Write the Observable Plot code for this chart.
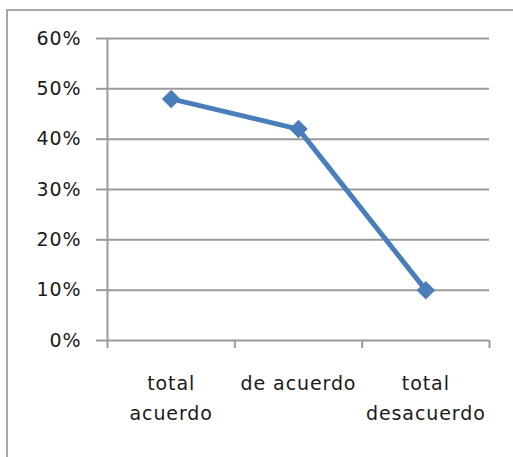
<!DOCTYPE html>
<html>
<head>
<meta charset="utf-8">
<script src="https://cdn.jsdelivr.net/npm/d3@7"></script>
<script src="https://cdn.jsdelivr.net/npm/@observablehq/plot@0.6"></script>
<style>
  html, body { margin: 0; padding: 0; background: #fff; }
  #wrap { position: relative; width: 513px; height: 457px; overflow: hidden; }
  #frame { position: absolute; left: 6px; top: 9px; width: 600px; height: 600px;
           border-left: 2px solid #a6a6a6; border-top: 2px solid #a6a6a6; box-sizing: border-box; }
  #chart { position: absolute; left: 0; top: 0; }
  #chart text { letter-spacing: 0.9px; }
</style>
</head>
<body>
<div id="wrap"><div id="frame"></div><div id="chart"></div></div>
<script>
const categories = ["total acuerdo", "de acuerdo", "total desacuerdo"];
const tickLabels = ["total\nacuerdo", "de acuerdo", "total\ndesacuerdo"];
const values = [0.48, 0.42, 0.10];
const yTicks = [0, 0.1, 0.2, 0.3, 0.4, 0.5, 0.6];

const data = categories.map((c, i) => ({cat: c, idx: i + 0.5, value: values[i]}));
const centers = categories.map((c, i) => i + 0.5);
const bounds = d3.range(categories.length + 1);

const gray = "#9a9a9a";
const blue = "#4a7ebb";

const chart = Plot.plot({
  width: 513,
  height: 457,
  marginLeft: 107,
  marginRight: 24,
  marginTop: 38,
  marginBottom: 117,
  style: {fontFamily: "'DejaVu Sans', sans-serif", fontSize: "19px", color: "#1a1a1a", background: "transparent"},
  x: {domain: [0, categories.length], axis: null},
  y: {domain: [0, 0.6], axis: null},
  marks: [
    Plot.gridY(yTicks, {stroke: gray, strokeOpacity: 1, strokeWidth: 2}),
    Plot.axisY(yTicks, {tickSize: 11, tickPadding: 15, stroke: gray, strokeWidth: 2, label: null,
      tickFormat: d => Math.round(d * 100) + "%", fill: "#1a1a1a", fontSize: 19}),
    Plot.ruleX([0], {stroke: gray, strokeWidth: 2}),
    Plot.axisX(bounds, {tickSize: 8, stroke: gray, strokeWidth: 2, label: null, tickFormat: () => ""}),
    Plot.axisX(centers, {tickSize: 0, tickPadding: 29, lineHeight: 1.55, label: null,
      tickFormat: (d, i) => tickLabels[i], fill: "#1a1a1a", fontSize: 19}),
    Plot.line(data, {x: "idx", y: "value", stroke: blue, strokeWidth: 5, strokeLinejoin: "round"}),
    Plot.dot(data, {x: "idx", y: "value", symbol: "square", r: 7.4, rotate: 45, fill: blue, stroke: null})
  ]
});
document.getElementById("chart").appendChild(chart);
</script>
</body>
</html>
